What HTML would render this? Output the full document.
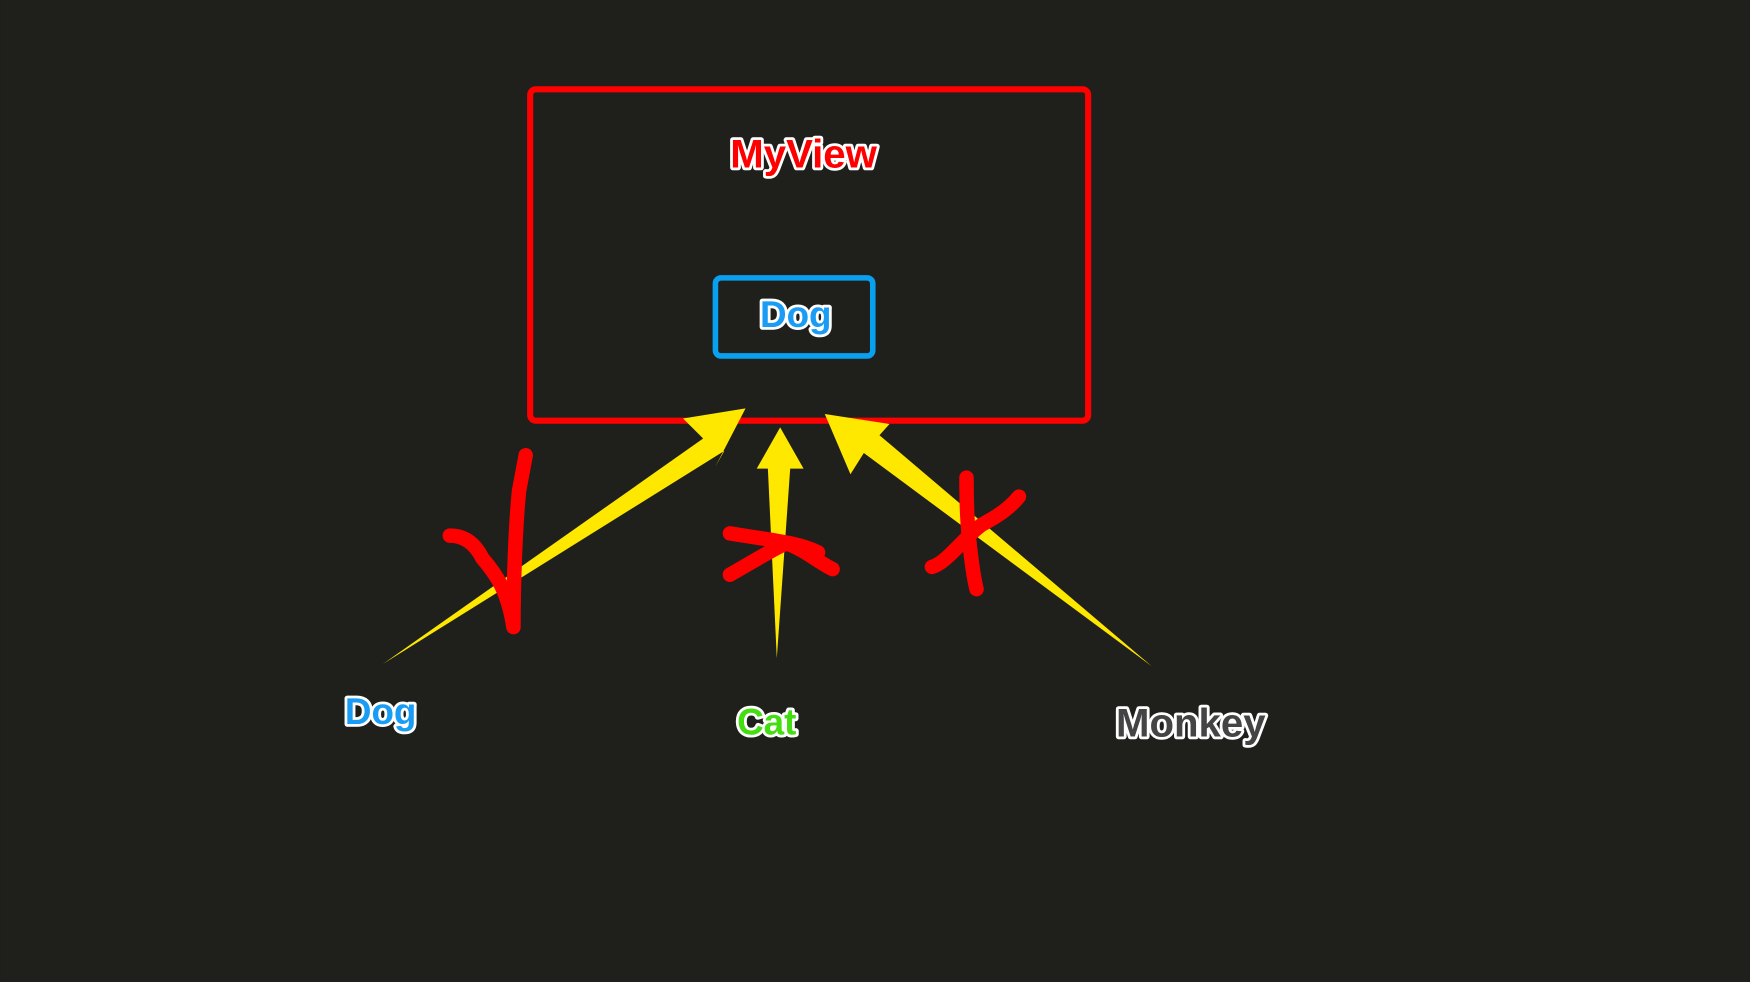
<!DOCTYPE html>
<html><head><meta charset="utf-8"><style>
html,body{margin:0;padding:0;background:#1f1f1c;}
svg{display:block;}
text{font-family:"Liberation Sans",sans-serif;font-weight:bold;paint-order:stroke;stroke:#fff;stroke-linejoin:round;text-anchor:middle;}
</style></head><body>
<svg width="1750" height="982" viewBox="0 0 1568 880" xmlns="http://www.w3.org/2000/svg">
<rect width="1568" height="880" fill="#1f1f1c"/>
<rect x="475" y="80" width="500" height="297" rx="5" fill="none" stroke="#ff0000" stroke-width="5.5"/>
<text x="720" y="150" font-size="36" fill="#ff0000" stroke-width="5">MyView</text>
<rect x="641" y="249" width="141" height="70" rx="5" fill="none" stroke="#0aa0f0" stroke-width="5"/>
<text x="713" y="293" font-size="33" fill="#1a9cf5" stroke-width="5">Dog</text>
<!-- arrows -->
<polygon fill="#ffe800" points="343,595 630,393 612,375 668,366 641,418 649,404"/>
<polygon fill="#ffe800" points="696,590 688,420 678,420 699,383 720,420 708,420"/>
<polygon fill="#ffe800" points="1032,597 774,406 762,425 739,371 797,380 788,390"/>
<!-- marks -->
<g fill="none" stroke="#ff0000" stroke-width="13" stroke-linecap="round" stroke-linejoin="round">
<path d="M403,480 C420,480 428,492 432,500 C445,515 455,530 460,562 C460,520 462,470 465,440 L471,408"/>
<path d="M654,515 C680,500 700,488 705,487 C720,492 735,505 746,510"/>
<path d="M654,478 C690,484 715,486 733,495"/>
<path d="M866,428 C866,450 867,470 868,480 C870,500 873,520 875,528"/>
<path d="M835,508 C848,505 865,480 880,470 C895,462 905,455 913,445"/>
</g>
<text x="341" y="649" font-size="33" fill="#1a9cf5" stroke-width="5">Dog</text>
<text x="687" y="658" font-size="33" fill="#44dd11" stroke-width="5">Cat</text>
<text x="1067" y="660" font-size="36" fill="#444444" stroke-width="5">Monkey</text>
</svg>
</body></html>
